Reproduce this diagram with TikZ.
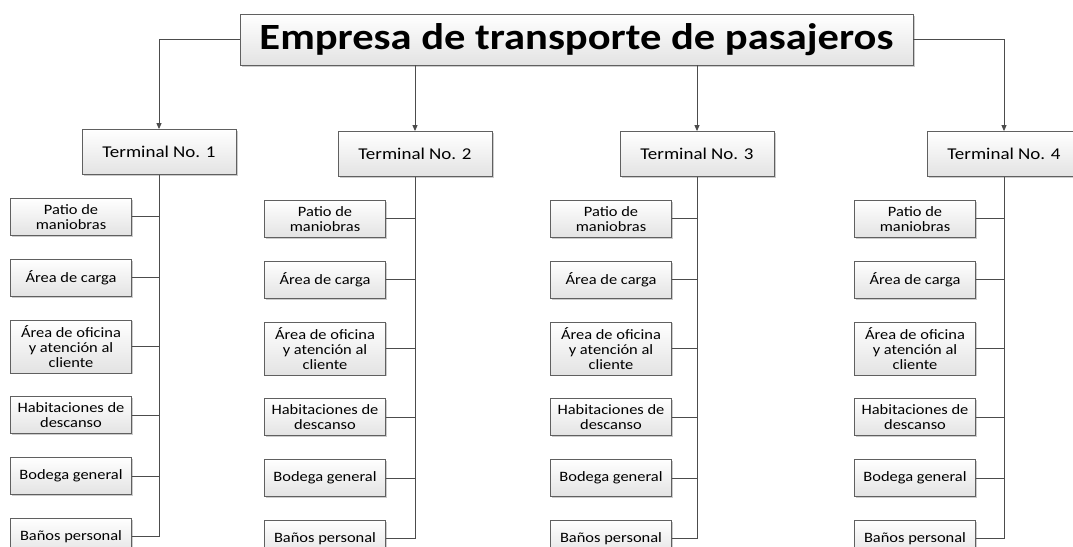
\documentclass[tikz,border=0pt]{standalone}
\usepackage{fontspec}
\setmainfont{Carlito}[FakeStretch=1.15]
\usetikzlibrary{positioning,arrows.meta,shadows}

\begin{document}
\begin{tikzpicture}[x=1pt, y=-1pt, node distance=23pt, >={Triangle[length=6pt,width=5pt]},
    box/.style = {draw=gray!75!black, line width=0.8pt, top color=white, bottom color=gray!22,
        drop shadow={shadow xshift=1.5pt, shadow yshift=-1.5pt, fill=black, opacity=0.2},
        align=center, inner sep=0pt},
    head/.style = {box, minimum width=673pt, minimum height=51pt, font=\fontsize{37}{42}\selectfont\bfseries},
    term/.style = {box, minimum width=154pt, minimum height=45pt, font=\fontsize{16.5}{19}\selectfont},
    item/.style = {box, minimum width=121pt, minimum height=37pt, font=\fontsize{14.3}{15.3}\selectfont},
    link/.style = {draw=black!70, line width=0.9pt}]
        \useasboundingbox (0,0) rectangle (1073,546);

        \node[head] (0) at (576.5,39.5) {Empresa de transporte de pasajeros};

        \node[term] (1) at (159,152) {Terminal No. 1};
        \node[term] (2) at (415,154) {Terminal No. 2};
        \node[term] (3) at (697,154) {Terminal No. 3};
        \node[term] (4) at (1004,154) {Terminal No. 4};

        \node[item] (11) [below=of 1, xshift=-88pt] {Patio de\\maniobras};
        \node[item] (12) [below=of 11] {Área de carga};
        \node[item, minimum height=53pt] (13) [below=of 12] {Área de oficina\\y atención al\\cliente};
        \node[item] (14) [below=of 13] {Habitaciones de\\descanso};
        \node[item] (15) [below=of 14] {Bodega general};
        \node[item] (16) [below=of 15] {Baños personal};

        \node[item] (21) [below=of 2, xshift=-90pt] {Patio de\\maniobras};
        \node[item] (22) [below=of 21] {Área de carga};
        \node[item, minimum height=53pt] (23) [below=of 22] {Área de oficina\\y atención al\\cliente};
        \node[item] (24) [below=of 23] {Habitaciones de\\descanso};
        \node[item] (25) [below=of 24] {Bodega general};
        \node[item] (26) [below=of 25] {Baños personal};

        \node[item] (31) [below=of 3, xshift=-86pt] {Patio de\\maniobras};
        \node[item] (32) [below=of 31] {Área de carga};
        \node[item, minimum height=53pt] (33) [below=of 32] {Área de oficina\\y atención al\\cliente};
        \node[item] (34) [below=of 33] {Habitaciones de\\descanso};
        \node[item] (35) [below=of 34] {Bodega general};
        \node[item] (36) [below=of 35] {Baños personal};

        \node[item] (41) [below=of 4, xshift=-89pt] {Patio de\\maniobras};
        \node[item] (42) [below=of 41] {Área de carga};
        \node[item, minimum height=53pt] (43) [below=of 42] {Área de oficina\\y atención al\\cliente};
        \node[item] (44) [below=of 43] {Habitaciones de\\descanso};
        \node[item] (45) [below=of 44] {Bodega general};
        \node[item] (46) [below=of 45] {Baños personal};

        \draw[link,->] (0) -| (1);
        \draw[link,->] (0.south -| 2) -- (2);
        \draw[link,->] (0.south -| 3) -- (3);
        \draw[link,->] (0) -| (4);

        \draw[link] (1) |- (16);
        \draw[link] (11) -- (11 -| 1);
        \draw[link] (12) -- (12 -| 1);
        \draw[link] (13) -- (13 -| 1);
        \draw[link] (14) -- (14 -| 1);
        \draw[link] (15) -- (15 -| 1);

        \draw[link] (2) |- (26);
        \draw[link] (21) -- (21 -| 2);
        \draw[link] (22) -- (22 -| 2);
        \draw[link] (23) -- (23 -| 2);
        \draw[link] (24) -- (24 -| 2);
        \draw[link] (25) -- (25 -| 2);

        \draw[link] (3) |- (36);
        \draw[link] (31) -- (31 -| 3);
        \draw[link] (32) -- (32 -| 3);
        \draw[link] (33) -- (33 -| 3);
        \draw[link] (34) -- (34 -| 3);
        \draw[link] (35) -- (35 -| 3);

        \draw[link] (4) |- (46);
        \draw[link] (41) -- (41 -| 4);
        \draw[link] (42) -- (42 -| 4);
        \draw[link] (43) -- (43 -| 4);
        \draw[link] (44) -- (44 -| 4);
        \draw[link] (45) -- (45 -| 4);

    \end{tikzpicture}
\end{document}
